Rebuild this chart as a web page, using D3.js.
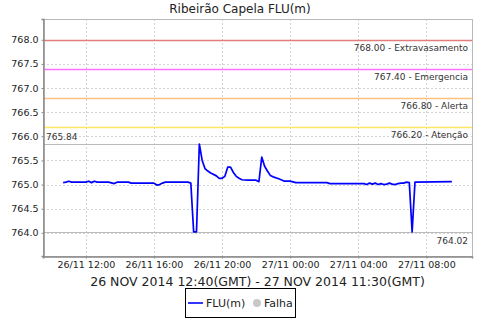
<!DOCTYPE html>
<html>
<head>
<meta charset="utf-8">
<script src="https://cdn.jsdelivr.net/npm/d3@7"></script>
<style>
  body { margin: 0; background: #fff; }
  svg { display: block; font-family: "DejaVu Sans", sans-serif; }
</style>
</head>
<body>
<svg id="chart" width="480" height="320"></svg>
<script>
const times = [
  "26/11 10:40", "26/11 10:50", "26/11 11:00", "26/11 11:10", "26/11 11:30",
  "26/11 12:00", "26/11 12:10", "26/11 12:20", "26/11 12:30", "26/11 12:40",
  "26/11 13:20", "26/11 13:40", "26/11 13:50", "26/11 14:30", "26/11 14:40",
  "26/11 16:00", "26/11 16:10", "26/11 16:20", "26/11 16:30", "26/11 16:40",
  "26/11 18:00", "26/11 18:10", "26/11 18:20", "26/11 18:30", "26/11 18:40",
  "26/11 18:50", "26/11 19:00", "26/11 19:10", "26/11 19:20", "26/11 19:40",
  "26/11 19:50", "26/11 20:00", "26/11 20:10", "26/11 20:20", "26/11 20:30",
  "26/11 20:40", "26/11 20:50", "26/11 21:00", "26/11 21:10", "26/11 21:30",
  "26/11 22:00", "26/11 22:10", "26/11 22:20", "26/11 22:30", "26/11 22:40",
  "26/11 22:50", "26/11 23:00", "26/11 23:20", "26/11 23:40", "27/11 00:00",
  "27/11 00:20", "27/11 02:10", "27/11 02:20", "27/11 04:20", "27/11 04:30",
  "27/11 04:40", "27/11 04:50", "27/11 05:00", "27/11 05:10", "27/11 05:20",
  "27/11 05:30", "27/11 05:40", "27/11 05:50", "27/11 06:00", "27/11 06:10",
  "27/11 06:20", "27/11 06:30", "27/11 06:40", "27/11 06:50", "27/11 07:00",
  "27/11 07:10", "27/11 07:20", "27/11 09:30"
];
const levels = [
  765.04, 765.05, 765.07, 765.05, 765.05,
  765.05, 765.07, 765.04, 765.07, 765.05,
  765.05, 765.02, 765.05, 765.05, 765.03,
  765.03, 764.99, 765.00, 765.03, 765.05,
  765.05, 765.03, 764.02, 764.02, 765.84,
  765.50, 765.33, 765.28, 765.24, 765.18,
  765.13, 765.13, 765.17, 765.36, 765.36,
  765.25, 765.17, 765.13, 765.10, 765.09,
  765.09, 765.06, 765.57, 765.38, 765.28,
  765.19, 765.16, 765.12, 765.07, 765.07,
  765.04, 765.04, 765.02, 765.02, 765.00,
  765.03, 765.01, 765.03, 765.00, 765.02,
  765.00, 765.01, 765.03, 765.01, 765.00,
  765.02, 765.03, 765.03, 765.05, 765.04,
  764.02, 765.05, 765.06
];

const thresholdValues = [768.0, 767.4, 766.8, 766.2];
const thresholdNames = ["Extravasamento", "Emergencia", "Alerta", "Atenção"];
const thresholdColors = ["#e37c7c", "#ff70ff", "#ffc080", "#ffe860"];

const yTicks = [764.0, 764.5, 765.0, 765.5, 766.0, 766.5, 767.0, 767.5, 768.0];
const xTicks = ["26/11 12:00", "26/11 16:00", "26/11 20:00", "27/11 00:00", "27/11 04:00", "27/11 08:00"];
const xDomain = ["26/11 09:29", "27/11 10:41"];

const title = "Ribeirão Capela FLU(m)";
const axisTitle = "26 NOV 2014 12:40(GMT) - 27 NOV 2014 11:30(GMT)";

const parse = (s) => d3.utcParse("%d/%m/%Y %H:%M")(s.replace(" ", "/2014 "));
const fmt = d3.utcFormat("%d/%m %H:%M");

const data = times.map((t, i) => ({ t: parse(t), v: levels[i] }));
const maxV = d3.max(levels);
const minV = d3.min(levels);

const margin = { left: 43, top: 19, right: 472, bottom: 256 };

const x = d3.scaleUtc()
  .domain(xDomain.map(parse))
  .range([margin.left, margin.right]);

const y = d3.scaleLinear()
  .domain([763.52, 768.43])
  .range([margin.bottom, margin.top]);

const svg = d3.select("#chart");

// title
svg.append("text")
  .attr("x", 240)
  .attr("y", 13)
  .attr("text-anchor", "middle")
  .style("font-size", "12px")
  .attr("fill", "#222")
  .text(title);

// grid
const grid = svg.append("g");
grid.selectAll(".hgrid")
  .data(yTicks)
  .join("line")
  .attr("x1", margin.left)
  .attr("x2", margin.right)
  .attr("y1", (d) => Math.round(y(d)) + 0.5)
  .attr("y2", (d) => Math.round(y(d)) + 0.5)
  .attr("stroke", "#d4d4d4")
  .attr("stroke-dasharray", "2,2");
grid.selectAll(".vgrid")
  .data(xTicks.map(parse))
  .join("line")
  .attr("x1", (d) => Math.round(x(d)) + 0.5)
  .attr("x2", (d) => Math.round(x(d)) + 0.5)
  .attr("y1", margin.top)
  .attr("y2", margin.bottom)
  .attr("stroke", "#d4d4d4")
  .attr("stroke-dasharray", "2,2");

// threshold lines
const thresholds = svg.append("g");
thresholds.selectAll("line")
  .data(thresholdValues)
  .join("line")
  .attr("x1", margin.left)
  .attr("x2", margin.right)
  .attr("y1", (d) => Math.round(y(d)) + 0.5)
  .attr("y2", (d) => Math.round(y(d)) + 0.5)
  .attr("stroke", (d, i) => thresholdColors[i])
  .attr("stroke-width", 1.5);
thresholds.selectAll("text")
  .data(thresholdValues)
  .join("text")
  .attr("x", 468)
  .attr("y", (d) => Math.round(y(d)) + 11)
  .attr("text-anchor", "end")
  .style("font-size", "9px")
  .attr("fill", "#333")
  .text((d, i) => `${d.toFixed(2)} - ${thresholdNames[i]}`);

// max / min lines
[maxV, minV].forEach((v, i) => {
  const yy = Math.round(y(v)) + 0.5;
  svg.append("line")
    .attr("x1", margin.left)
    .attr("x2", margin.right)
    .attr("y1", yy)
    .attr("y2", yy)
    .attr("stroke", "#bbb")
    .attr("stroke-width", 1.2);
  svg.append("text")
    .attr("x", i === 0 ? 46 : 468)
    .attr("y", i === 0 ? yy - 5 : yy + 11)
    .attr("text-anchor", i === 0 ? "start" : "end")
    .style("font-size", "9px")
    .attr("fill", "#333")
    .text(v.toFixed(2));
});

// series
svg.append("path")
  .datum(data)
  .attr("fill", "none")
  .attr("stroke", "#0000ff")
  .attr("stroke-width", 1.7)
  .attr("stroke-linejoin", "round")
  .attr("d", d3.line().x((d) => x(d.t)).y((d) => y(d.v)));

// frame
svg.append("rect")
  .attr("x", margin.left + 0.5)
  .attr("y", margin.top + 0.5)
  .attr("width", margin.right - margin.left)
  .attr("height", margin.bottom - margin.top)
  .attr("fill", "none")
  .attr("stroke", "#b8b8b8");

// axes
const yAxis = svg.append("g")
  .attr("transform", `translate(${margin.left + 0.5},0)`)
  .call(d3.axisLeft(y).tickValues(yTicks).tickSize(2).tickPadding(3).tickFormat(d3.format(".1f")));
const xAxis = svg.append("g")
  .attr("transform", `translate(0,${margin.bottom + 0.5})`)
  .call(d3.axisBottom(x).tickValues(xTicks.map(parse)).tickSize(2).tickPadding(3).tickFormat(fmt));

[yAxis, xAxis].forEach((g) => {
  g.select(".domain").attr("stroke", "#888").attr("stroke-width", 1.5);
  g.selectAll(".tick line").attr("stroke", "#888");
  g.selectAll(".tick text")
    .attr("fill", "#222")
    .style("font-family", "DejaVu Sans, sans-serif")
    .style("font-size", "9.5px");
});

// x axis title
svg.append("text")
  .attr("x", (margin.left + margin.right) / 2)
  .attr("y", 286)
  .attr("text-anchor", "middle")
  .style("font-size", "12.5px")
  .attr("fill", "#222")
  .text(axisTitle);

// legend
const legend = svg.append("g");
legend.append("rect")
  .attr("x", 185.5)
  .attr("y", 288.5)
  .attr("width", 110)
  .attr("height", 29)
  .attr("fill", "#fff")
  .attr("stroke", "#000");
legend.append("line")
  .attr("x1", 188)
  .attr("x2", 203)
  .attr("y1", 303)
  .attr("y2", 303)
  .attr("stroke", "#0000ff")
  .attr("stroke-width", 1.6);
legend.append("text")
  .attr("x", 206)
  .attr("y", 307)
  .style("font-size", "11px")
  .attr("fill", "#222")
  .text("FLU(m)");
legend.append("circle")
  .attr("cx", 257)
  .attr("cy", 303)
  .attr("r", 4)
  .attr("fill", "#c8c8c8");
legend.append("text")
  .attr("x", 264)
  .attr("y", 307)
  .style("font-size", "11px")
  .attr("fill", "#222")
  .text("Falha");
</script>
</body>
</html>
